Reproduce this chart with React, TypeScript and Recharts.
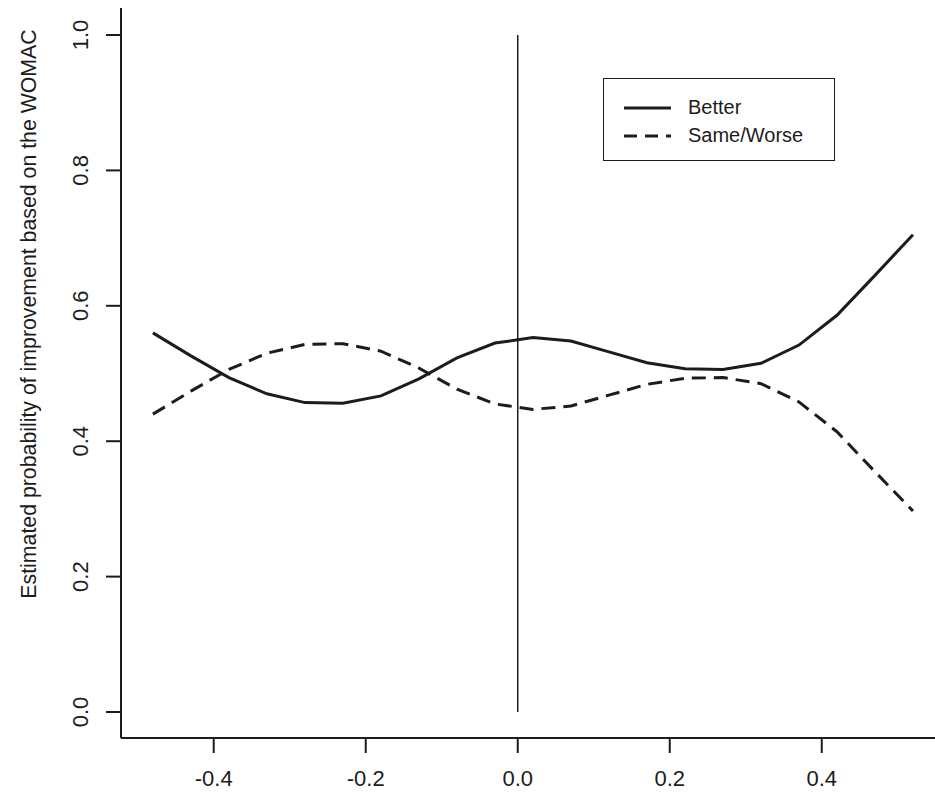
import React from "react";
import {
  LineChart,
  Line,
  XAxis,
  YAxis,
  ReferenceLine,
} from "recharts";

// change in score (x) and estimated probabilities
const xValues = [
  -0.48, -0.43, -0.38, -0.33, -0.28, -0.23, -0.18, -0.13, -0.08, -0.03, 0.02,
  0.07, 0.12, 0.17, 0.22, 0.27, 0.32, 0.37, 0.42, 0.47, 0.52,
];
const betterValues = [
  0.56, 0.526, 0.494, 0.47, 0.457, 0.456, 0.467, 0.492, 0.523, 0.545, 0.553,
  0.548, 0.532, 0.516, 0.507, 0.506, 0.515, 0.542, 0.586, 0.645, 0.705,
];
const worseValues = [
  0.44, 0.474, 0.506, 0.53, 0.543, 0.544, 0.533, 0.508, 0.477, 0.455, 0.447,
  0.452, 0.468, 0.484, 0.493, 0.494, 0.485, 0.458, 0.414, 0.355, 0.297,
];
const xTicks = [-0.4, -0.2, 0, 0.2, 0.4];
const yTicks = [0, 0.2, 0.4, 0.6, 0.8, 1.0];

const FONT = "'Liberation Sans', Arial, Helvetica, sans-serif";
const INK = "#1c1c1c";

const rows = xValues.map((x, i) => ({
  x,
  better: betterValues[i],
  worse: worseValues[i],
}));

// R-style rotated y tick labels
function YTick(props: any) {
  const { x, y, payload } = props;
  const bx = x - 16;
  return (
    <text
      x={bx}
      y={y}
      transform={`rotate(-90 ${bx} ${y})`}
      textAnchor="middle"
      fontSize={22}
      fontFamily={FONT}
      fill={INK}
    >
      {Number(payload.value).toFixed(1)}
    </text>
  );
}

function Legendbox() {
  return (
    <div
      style={{
        position: "absolute",
        left: 603,
        top: 78,
        width: 232,
        height: 83,
        border: `1.5px solid ${INK}`,
        boxSizing: "border-box",
        background: "#fff",
        fontFamily: FONT,
        fontSize: 20,
        color: INK,
      }}
    >
      <svg width={60} height={60} style={{ position: "absolute", left: 14, top: 12 }}>
        <line x1={6} y1={17} x2={53} y2={17} stroke={INK} strokeWidth={3} />
        <line x1={6} y1={45} x2={53} y2={45} stroke={INK} strokeWidth={3} strokeDasharray="13 8" />
      </svg>
      <div style={{ position: "absolute", left: 84, top: 16, lineHeight: "24px" }}>Better</div>
      <div style={{ position: "absolute", left: 84, top: 44, lineHeight: "24px" }}>Same/Worse</div>
    </div>
  );
}

export default function App() {
  return (
    <div
      style={{
        position: "absolute",
        left: 0,
        top: 0,
        width: 935,
        height: 794,
        background: "#fff",
        overflow: "hidden",
      }}
    >
      <LineChart
        width={935}
        height={794}
        data={rows}
        margin={{ top: 8, right: 0, bottom: 0, left: 0 }}
      >
        <XAxis
          dataKey="x"
          type="number"
          domain={[-0.522, 0.549]}
          ticks={xTicks}
          allowDataOverflow
          tickFormatter={(v: number) => v.toFixed(1)}
          tick={{ fill: INK, fontSize: 22, fontFamily: FONT }}
          tickSize={15}
          tickMargin={17}
          height={56}
          stroke={INK}
          axisLine={{ stroke: INK, strokeWidth: 2 }}
          tickLine={{ stroke: INK, strokeWidth: 2 }}
        />
        <XAxis
          xAxisId="top"
          orientation="top"
          dataKey="x"
          type="number"
          domain={[-0.522, 0.549]}
          tick={false}
          tickLine={false}
          height={0}
          axisLine={{ stroke: INK, strokeWidth: 2 }}
        />
        <YAxis
          type="number"
          domain={[-0.0384, 1.0399]}
          ticks={yTicks}
          allowDataOverflow
          width={121}
          tick={<YTick />}
          tickSize={15}
          axisLine={{ stroke: INK, strokeWidth: 2 }}
          tickLine={{ stroke: INK, strokeWidth: 2 }}
          label={{
            content: () => (
              <text
                x={36}
                y={314}
                transform="rotate(-90 36 314)"
                textAnchor="middle"
                fontSize={21.3}
                fontFamily={FONT}
                fill={INK}
              >
                Estimated probability of improvement based on the WOMAC
              </text>
            ),
          }}
        />
        <ReferenceLine
          segment={[
            { x: 0, y: 0 },
            { x: 0, y: 1 },
          ]}
          stroke={INK}
          strokeWidth={1.5}
          ifOverflow="visible"
        />
        <Line
          dataKey="better"
          type="linear"
          stroke={INK}
          strokeWidth={3}
          dot={false}
          isAnimationActive={false}
        />
        <Line
          dataKey="worse"
          type="linear"
          stroke={INK}
          strokeWidth={3}
          strokeDasharray="14 8"
          dot={false}
          isAnimationActive={false}
        />
      </LineChart>
      <Legendbox />
    </div>
  );
}
